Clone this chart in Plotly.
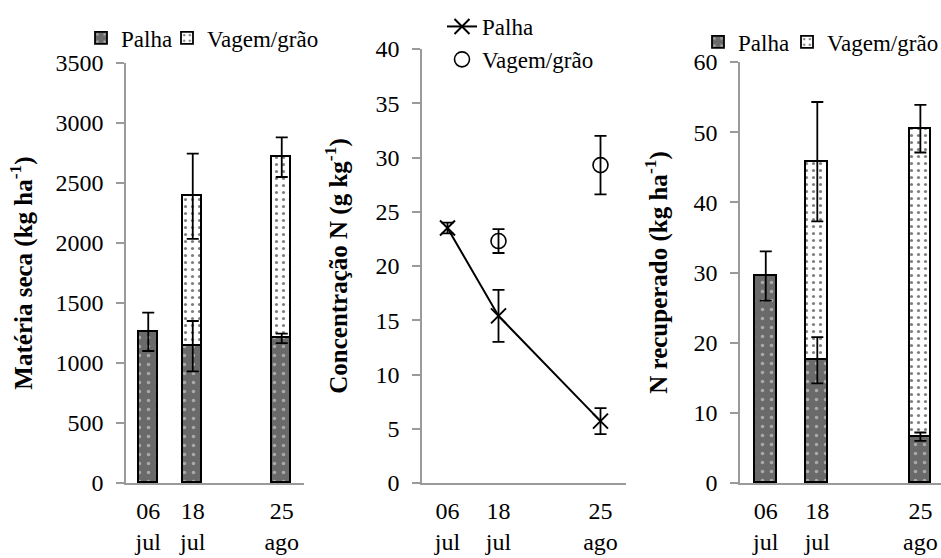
import plotly.graph_objects as go

# Sampling dates (a blank slot separates July from August on the category axes)
dates = ["06<br>jul", "18<br>jul", "25<br>ago"]
gap = " "

# Dry matter (kg/ha)
ms_palha = [1260, 1140, 1205]
ms_palha_err = [160, 210, 40]
ms_vagem = [1250, 1510]          # 18 jul, 25 ago
ms_vagem_err = [355, 165]

# N concentration (g/kg)
conc_palha = [23.5, 15.4, 5.7]
conc_palha_err = [0.5, 2.4, 1.2]
conc_vagem = [22.3, 29.3]        # 18 jul, 25 ago
conc_vagem_err = [1.1, 2.7]

# Recovered N (kg/ha)
nrec_palha = [29.5, 17.5, 6.6]
nrec_palha_err = [3.5, 3.3, 0.6]
nrec_vagem = [28.3, 43.9]        # 18 jul, 25 ago
nrec_vagem_err = [8.5, 3.4]

FONT = "Liberation Serif, serif"
AXIS_GREY = "#9a9a9a"

palha_pattern = dict(shape=".", bgcolor="#6a6a6a", fgcolor="#e8e8e8", size=9, solidity=0.12)
vagem_pattern = dict(shape=".", bgcolor="white", fgcolor="black", size=7, solidity=0.16)

fig = go.Figure()


def stacked_panel(xa, ya, leg_palha, leg_vagem, palha, palha_err, vagem, vagem_err):
    fig.add_trace(go.Bar(
        x=dates, y=palha, name="Palha", xaxis=xa, yaxis=ya, legend=leg_palha,
        width=0.42, marker=dict(pattern=palha_pattern, line=dict(color="black", width=1.8)),
    ))
    fig.add_trace(go.Bar(
        x=dates[1:], y=vagem, name="Vagem/grão", xaxis=xa, yaxis=ya, legend=leg_vagem,
        width=0.42, marker=dict(pattern=vagem_pattern, line=dict(color="black", width=1.8)),
    ))
    # error bars at the top of each stacked segment
    totals = [p + v for p, v in zip(palha[1:], vagem)]
    err_style = dict(type="data", color="black", thickness=1.8, width=6)
    fig.add_trace(go.Scatter(
        x=dates, y=palha, mode="markers", marker=dict(opacity=0), showlegend=False,
        xaxis=xa, yaxis=ya, hoverinfo="skip",
        error_y=dict(array=palha_err, **err_style),
    ))
    fig.add_trace(go.Scatter(
        x=dates[1:], y=totals, mode="markers", marker=dict(opacity=0), showlegend=False,
        xaxis=xa, yaxis=ya, hoverinfo="skip",
        error_y=dict(array=vagem_err, **err_style),
    ))


stacked_panel("x", "y", "legend", "legend4",
              ms_palha, ms_palha_err, ms_vagem, ms_vagem_err)
stacked_panel("x3", "y3", "legend3", "legend5",
              nrec_palha, nrec_palha_err, nrec_vagem, nrec_vagem_err)

# N concentration panel
fig.add_trace(go.Scatter(
    x=dates, y=conc_palha, name="Palha", mode="lines+markers", xaxis="x2", yaxis="y2",
    legend="legend2",
    line=dict(color="black", width=2),
    marker=dict(symbol="x-thin-open", size=15, color="black", line=dict(color="black", width=2)),
    error_y=dict(type="data", array=conc_palha_err, color="black", thickness=1.8, width=6),
))
fig.add_trace(go.Scatter(
    x=dates[1:], y=conc_vagem, name="Vagem/grão", mode="markers", xaxis="x2", yaxis="y2",
    legend="legend2",
    marker=dict(symbol="circle-open", size=15, color="black", line=dict(color="black", width=1.6)),
    error_y=dict(type="data", array=conc_vagem_err, color="black", thickness=1.8, width=6),
))

cats = [dates[0], dates[1], gap, dates[2]]


def xaxis(domain, rng, anchor):
    return dict(
        domain=domain, anchor=anchor, type="category", categoryorder="array",
        categoryarray=cats, range=rng, showline=True, linecolor=AXIS_GREY, linewidth=1.5,
        ticks="", showgrid=False, zeroline=False, automargin=False, ticklabelstandoff=5,
        tickfont=dict(family=FONT, size=24, color="black"), fixedrange=True,
    )


def yaxis(domain, anchor, rng, dtick, title, standoff):
    return dict(
        domain=domain, anchor=anchor, range=rng, dtick=dtick, showline=True,
        linecolor=AXIS_GREY, linewidth=1.5, ticks="outside", ticklen=8, tickwidth=1.5,
        tickcolor=AXIS_GREY, showgrid=False, zeroline=False, ticklabelstandoff=8,
        automargin=False,
        tickfont=dict(family=FONT, size=24, color="black"),
        title=dict(text=title, font=dict(family=FONT, size=25, color="black"),
                   standoff=standoff),
    )


legend_common = dict(
    font=dict(family=FONT, size=23, color="black"), bgcolor="rgba(0,0,0,0)",
    itemwidth=30, tracegroupgap=0, traceorder="normal",
)


def item_legend(x_px, y_px):
    return dict(orientation="h", x=x_px / 941, y=1 - y_px / 558, xanchor="left",
                yanchor="middle", **legend_common)


fig.update_layout(
    width=941, height=558, margin=dict(l=0, r=0, t=0, b=0, autoexpand=False),
    paper_bgcolor="white", plot_bgcolor="white", barmode="stack", bargap=0,
    xaxis=xaxis([126 / 941, 304 / 941], [-0.5, 3.5], "y"),
    xaxis2=xaxis([422 / 941, 626 / 941], [-0.5, 3.5], "y2"),
    xaxis3=xaxis([740 / 941, 1.0], [-0.5, 3.4], "y3"),
    yaxis=yaxis([75 / 558, 495 / 558], "x", [0, 3500], 500,
                "<b>Matéria seca (kg ha<sup>-1</sup>)</b>", 16),
    yaxis2=yaxis([75 / 558, 509 / 558], "x2", [0, 40], 5,
                 "<b>Concentração N (g kg<sup>-1</sup>)</b>", 21),
    yaxis3=yaxis([75 / 558, 496 / 558], "x3", [0, 60], 10,
                 "<b>N recuperado (kg ha<sup>-1</sup>)</b>", 19),
    legend=item_legend(81, 38),
    legend4=item_legend(167, 38),
    legend3=item_legend(698, 42),
    legend5=item_legend(787, 42),
    legend2=dict(orientation="v", x=442 / 941, y=1 - 5 / 558, xanchor="left", yanchor="top",
                 **legend_common),
    showlegend=True,
)

fig.write_html("out.html")
